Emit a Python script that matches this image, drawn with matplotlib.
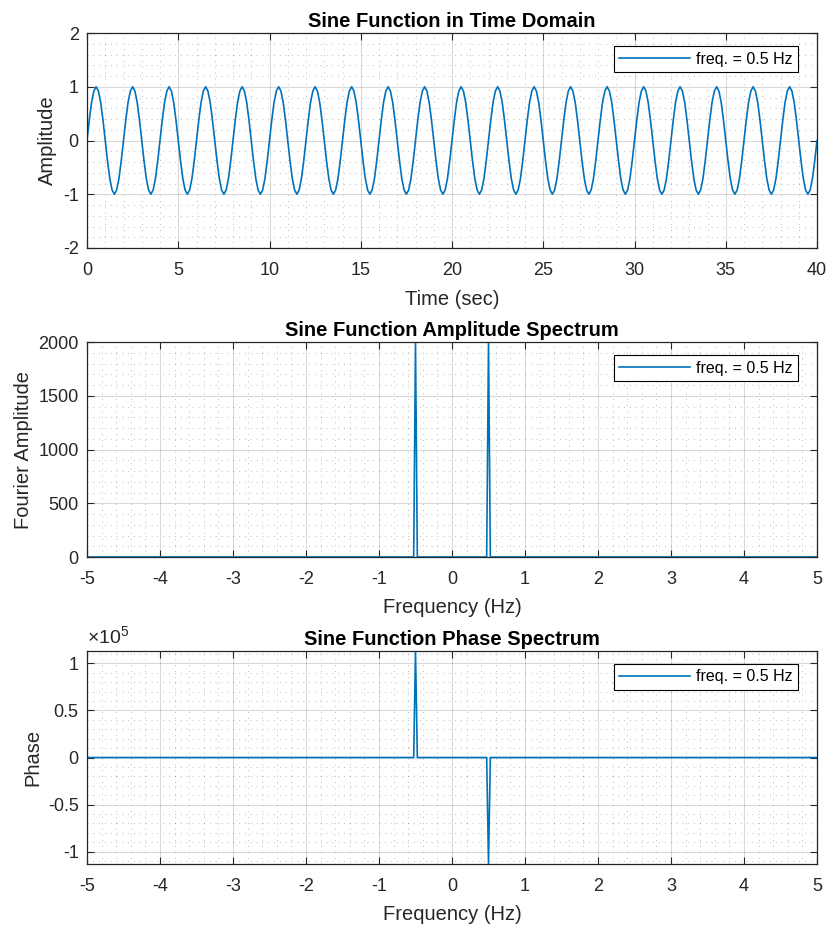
import numpy as np
import matplotlib
matplotlib.use('Agg')
import matplotlib.pyplot as plt
from matplotlib.ticker import MultipleLocator, FuncFormatter

# one period (2 s) of the 0.5 Hz sine, read every 0.125 s
cycle_vals = [0, 0.38, 0.71, 0.92, 1, 0.92, 0.71, 0.38,
              0, -0.38, -0.71, -0.92, -1, -0.92, -0.71, -0.38]
n_cycles = 20
dt = 0.125
amp = np.append(np.tile(cycle_vals, n_cycles), 0)
time = np.arange(len(amp)) * dt

# amplitude spectrum: zero except spikes at +/-0.5 Hz
spec_freq = [-5, -0.525, -0.5, -0.475, 0.475, 0.5, 0.525, 5]
spec_amp = [0, 0, 2000, 0, 0, 2000, 0, 0]

# phase spectrum: up spike at -0.5 Hz, down spike at +0.5 Hz
phase_freq = [-5, -0.525, -0.5, -0.475, 0.475, 0.5, 0.525, 5]
phase_val = [0, 0, 1.13e5, 0, 0, -1.13e5, 0, 0]

legend_label = 'freq. = 0.5 Hz'
line_col = '#0072BD'
dark = '#262626'

plt.rcParams['font.family'] = ['Liberation Sans', 'DejaVu Sans']
plt.rcParams['axes.unicode_minus'] = False
plt.rcParams['mathtext.fontset'] = 'custom'
plt.rcParams['mathtext.rm'] = 'Liberation Sans'

fig = plt.figure(figsize=(8.31, 9.26), dpi=100)
L, W = 87/831, 730/831
ax1 = fig.add_axes([L, 1-248/926, W, 215/926])
ax2 = fig.add_axes([L, 1-557/926, W, 215/926])
ax3 = fig.add_axes([L, 1-864/926, W, 213/926])


def style(ax, xmaj, xmin, ymaj, ymin):
    ax.xaxis.set_major_locator(MultipleLocator(xmaj))
    ax.xaxis.set_minor_locator(MultipleLocator(xmin))
    ax.yaxis.set_major_locator(MultipleLocator(ymaj))
    ax.yaxis.set_minor_locator(MultipleLocator(ymin))
    ax.grid(True, which='major', color='#000000', alpha=0.15, linewidth=0.8)
    ax.grid(True, which='minor', color='#000000', alpha=0.35, linestyle=(0, (1, 6)), linewidth=0.6)
    ax.tick_params(which='major', direction='in', length=5, width=0.8, colors=dark,
                   top=True, right=True, labelsize=13)
    ax.tick_params(axis='x', which='major', pad=10)
    ax.tick_params(axis='y', which='major', pad=6)
    ax.tick_params(which='minor', length=0)
    for s in ax.spines.values():
        s.set_color(dark)
        s.set_linewidth(0.9)
    ax.set_axisbelow(True)
    leg = ax.legend(loc='upper right', bbox_to_anchor=(1 - 19/730, 1 - 13/215),
                    borderaxespad=0, fontsize=11.5, fancybox=False, framealpha=1,
                    edgecolor='black', handlelength=4.4, handletextpad=0.4,
                    borderpad=0.35)
    leg.get_frame().set_linewidth(0.8)


ax1.plot(time, amp, color=line_col, linewidth=1.2, label=legend_label)
ax1.set_xlim(0, 40)
ax1.set_ylim(-2, 2)
ax1.set_title('Sine Function in Time Domain', fontsize=14.5, fontweight='bold', pad=4)
ax1.set_xlabel('Time (sec)', fontsize=14.5, color=dark, labelpad=8)
ax1.set_ylabel('Amplitude', fontsize=14.5, color=dark)
style(ax1, 5, 1, 1, 0.2)

ax2.plot(spec_freq, spec_amp, color=line_col, linewidth=1.2, label=legend_label)
ax2.set_xlim(-5, 5)
ax2.set_ylim(0, 2000)
ax2.set_title('Sine Function Amplitude Spectrum', fontsize=14.5, fontweight='bold', pad=4)
ax2.set_xlabel('Frequency (Hz)', fontsize=14.5, color=dark, labelpad=7)
ax2.set_ylabel('Fourier Amplitude', fontsize=14.5, color=dark)
style(ax2, 1, 0.2, 500, 100)

ax3.plot(phase_freq, phase_val, color=line_col, linewidth=1.2, label=legend_label)
ax3.set_xlim(-5, 5)
ax3.set_ylim(-1.13e5, 1.13e5)
ax3.set_title('Sine Function Phase Spectrum', fontsize=14.5, fontweight='bold', pad=4)
ax3.set_xlabel('Frequency (Hz)', fontsize=14.5, color=dark, labelpad=7)
ax3.set_ylabel('Phase', fontsize=14.5, color=dark)
style(ax3, 1, 0.2, 0.5e5, 0.1e5)
ax3.yaxis.set_major_formatter(FuncFormatter(lambda v, p: '%g' % round(v / 1e5, 2)))
ax3.text(0, 1.015, '$\\times10^{5}$', transform=ax3.transAxes, fontsize=14,
         color=dark, ha='left', va='bottom')

fig.savefig('out.png', dpi=100, facecolor='white')
